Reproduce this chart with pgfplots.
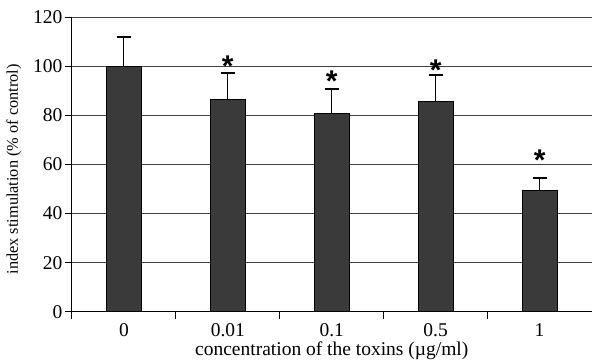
\documentclass[border=0pt]{standalone}
\usepackage{pgfplots}
\pgfplotsset{compat=1.18}
\usepackage{fontspec}
\setmainfont{Liberation Serif}
\newfontfamily\starfont{Liberation Sans}
\definecolor{barfill}{HTML}{3A3A3A}
\definecolor{gridc}{HTML}{404040}
\begin{document}
\begin{tikzpicture}
\begin{axis}[
  scale only axis,
  width=520pt, height=295pt,
  xmin=-0.5, xmax=4.5, ymin=0, ymax=120,
  axis x line=bottom, axis y line=left,
  axis line style={-, black, line width=0.9pt},
  xtick={0,1,2,3,4},
  xticklabels={0,0.01,0.1,0.5,1},
  minor xtick={-0.5,0.5,1.5,2.5,3.5},
  major x tick style={draw=none},
  minor x tick style={black, line width=0.9pt},
  ytick={0,20,40,60,80,100,120},
  ymajorgrids,
  major grid style={gridc, line width=0.9pt},
  tick align=outside,
  major tick length=7pt, minor tick length=7pt,
  y tick style={black, line width=0.9pt},
  tick label style={font=\fontsize{19.5}{21}\selectfont},
  yticklabel style={xshift=1pt},
  xticklabel style={yshift=-1pt},
  /pgf/number format/assume math mode=true,
  xlabel={concentration of the toxins (\textmu g/ml)},
  ylabel={index stimulation (\% of control)},
  xlabel style={font=\fontsize{19.5}{21}\selectfont, yshift=2pt},
  ylabel style={font=\fontsize{16.3}{18}\selectfont, yshift=5pt, xshift=-5pt},
  clip=false,
]
\addplot[ybar, bar width=35pt, fill=barfill, draw=black, line width=0.8pt,
  error bars/.cd, y dir=plus, y explicit,
  error bar style={black, line width=0.9pt},
  error mark options={rotate=90, mark size=7pt, line width=2pt, black}]
  coordinates {
  (0,100) +- (0,12)
  (1,86.6) +- (0,10.7)
  (2,80.9) +- (0,9.7)
  (3,85.5) +- (0,10.7)
  (4,49.3) +- (0,5.3)
  };
\addplot[draw=none, mark=none,
  nodes near coords={\starfont\bfseries\fontsize{30}{30}\selectfont *},
  every node near coord/.append style={anchor=base, inner sep=0pt}]
  coordinates {
  (1,95.8)
  (2,89.5)
  (3,94.2)
  (4,57.4)
  };
\end{axis}
\path ([xshift=-72pt, yshift=17pt]current axis.north west) -- ([yshift=-46pt]current axis.south east);
\end{tikzpicture}
\end{document}
